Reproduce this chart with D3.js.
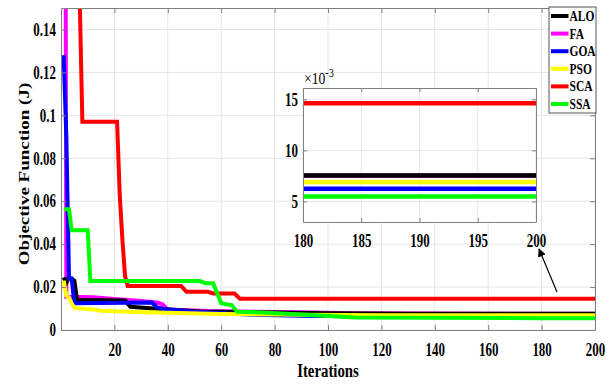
<!DOCTYPE html>
<html lang="en">
<meta charset="utf-8">
<style>
body { margin: 0; background: #fff; }
svg text { font-family: "Liberation Serif", "Times New Roman", serif; font-weight: bold; fill: #000; }
.grid line { stroke: #e6e6e6; stroke-width: 1px; }
.series { fill: none; stroke-linejoin: miter; }
</style>
<body>
<div id="chart"></div>
<script src="https://d3js.org/d3.v7.min.js"></script>
<script>
"use strict";

// series names and colours (legend order)
const names = ["ALO", "FA", "GOA", "PSO", "SCA", "SSA"];
const colors = ["#000000", "#ff00ff", "#0000ff", "#ffff00", "#ff0000", "#00ff00"];

// breakpoints of each convergence curve: iterations and objective values
const ALO_it  = [1, 2, 3, 5, 6, 24, 26, 32, 52, 80, 100, 130, 180, 200];
const ALO_val = [0.0245, 0.022, 0.0245, 0.023, 0.014, 0.0137, 0.0108, 0.0102, 0.0086, 0.0081, 0.0078, 0.00758, 0.00755, 0.00755];

const FA_it  = [1, 2, 12, 20, 28, 36, 38, 40, 55, 88, 110, 180, 200];
const FA_val = [0.6, 0.0155, 0.0153, 0.0145, 0.0138, 0.0128, 0.012, 0.0095, 0.0088, 0.0083, 0.0078, 0.00755, 0.00755];

const GOA_it  = [1, 2, 3, 4, 5, 34, 36, 40, 50, 70, 90, 120, 180, 200];
const GOA_val = [0.128, 0.09, 0.024, 0.024, 0.0125, 0.0128, 0.0105, 0.0095, 0.0085, 0.0072, 0.0066, 0.00628, 0.00625, 0.00625];

const PSO_it  = [1, 2, 3, 4, 5, 12, 15, 25, 40, 60, 90, 120, 180, 200];
const PSO_val = [0.023, 0.016, 0.015, 0.0125, 0.0103, 0.0096, 0.009, 0.0085, 0.008, 0.0075, 0.0071, 0.0069, 0.0069, 0.0069];

const SCA_it  = [1, 6, 7, 8, 21, 22, 23, 24, 25, 45, 47, 55, 57, 65, 67, 180, 200];
const SCA_val = [0.5, 0.45, 0.155, 0.097, 0.097, 0.063, 0.042, 0.025, 0.0205, 0.0205, 0.0178, 0.0178, 0.017, 0.017, 0.0146, 0.0146, 0.0146];

const SSA_it  = [1, 3, 4, 10, 11, 52, 54, 57, 60, 64, 66, 75, 90, 110, 180, 200];
const SSA_val = [0.0563, 0.0563, 0.0465, 0.0465, 0.0228, 0.0228, 0.0218, 0.0218, 0.0125, 0.0115, 0.0085, 0.0082, 0.0072, 0.0058, 0.0055, 0.0055];

const xTicks = [20, 40, 60, 80, 100, 120, 140, 160, 180, 200];
const yTicks = [0, 0.02, 0.04, 0.06, 0.08, 0.1, 0.12, 0.14];
const yTickLabels = ["0", "0.02", "0.04", "0.06", "0.08", "0.1", "0.12", "0.14"];
const insetXTicks = [180, 185, 190, 195, 200];
const insetYTicks = [5, 10, 15];

const series = [
  {name: "ALO", it: ALO_it, val: ALO_val},
  {name: "FA",  it: FA_it,  val: FA_val},
  {name: "GOA", it: GOA_it, val: GOA_val},
  {name: "PSO", it: PSO_it, val: PSO_val},
  {name: "SCA", it: SCA_it, val: SCA_val},
  {name: "SSA", it: SSA_it, val: SSA_val}
].map(s => ({name: s.name, color: colors[names.indexOf(s.name)],
             pts: s.it.map((x, i) => [x, s.val[i]])}));

// FA sits under ALO at the end, so draw it first
const drawOrder = ["FA", "ALO", "GOA", "PSO", "SCA", "SSA"];

const W = 613, H = 387;
const SQ = 0.72; // text looks horizontally squeezed in the picture
const FONT = '"Liberation Serif", "Times New Roman", serif';

const svg = d3.select("#chart").append("svg")
  .attr("width", W).attr("height", H);

// main axes box
const P = {left: 61, right: 595, top: 8, bottom: 330};
const x = d3.scaleLinear().domain([0, 200]).range([P.left, P.right]);
const y = d3.scaleLinear().domain([0, 0.15]).range([P.bottom, P.top]);

svg.append("defs").append("clipPath").attr("id", "mainclip")
  .append("rect").attr("x", P.left).attr("y", P.top)
  .attr("width", P.right - P.left).attr("height", P.bottom - P.top);

// grid
const grid = svg.append("g").attr("class", "grid");
grid.selectAll(".gx").data(xTicks).join("line")
  .attr("x1", d => x(d)).attr("x2", d => x(d)).attr("y1", P.top).attr("y2", P.bottom);
grid.selectAll(".gy").data(yTicks).join("line")
  .attr("x1", P.left).attr("x2", P.right).attr("y1", d => y(d)).attr("y2", d => y(d));

const line = d3.line().x(d => x(d[0])).y(d => y(d[1]));

const plot = svg.append("g").attr("clip-path", "url(#mainclip)");
drawOrder.forEach(n => {
  const s = series.find(d => d.name === n);
  plot.append("path").attr("class", "series")
    .attr("d", line(s.pts)).attr("stroke", s.color).attr("stroke-width", 4);
});

// axes (ticks inside like matlab)
const axColor = "#808080";
function styleAxis(g) {
  g.attr("font-family", null).attr("font-size", null);
  g.select(".domain").attr("stroke", axColor);
  g.selectAll(".tick line").attr("stroke", axColor);
  g.selectAll(".tick text").style("font-family", FONT).style("font-weight", "bold")
    .style("font-size", "18px");
}
const xAxis = svg.append("g").attr("transform", `translate(0,${P.bottom})`)
  .call(d3.axisBottom(x).tickValues(xTicks).tickSize(-5).tickSizeOuter(0).tickPadding(13))
  .call(styleAxis);
xAxis.selectAll(".tick text").attr("transform", `scale(${SQ},1)`);

const yAxis = svg.append("g").attr("transform", `translate(${P.left},0)`)
  .call(d3.axisLeft(y).tickValues(yTicks).tickFormat((d, i) => yTickLabels[i]).tickSize(-5).tickSizeOuter(0))
  .call(styleAxis);
yAxis.selectAll(".tick text").attr("x", -5 / SQ).attr("transform", `scale(${SQ},1)`);

svg.append("g").attr("transform", `translate(0,${P.top})`)
  .call(d3.axisTop(x).tickValues(xTicks).tickSize(-5).tickSizeOuter(0).tickFormat(""))
  .call(styleAxis);
svg.append("g").attr("transform", `translate(${P.right},0)`)
  .call(d3.axisRight(y).tickValues(yTicks).tickSize(-5).tickSizeOuter(0).tickFormat(""))
  .call(styleAxis);

// axis titles
svg.append("text")
  .attr("transform", `translate(${(P.left + P.right) / 2},377) scale(0.78,1)`)
  .attr("text-anchor", "middle").style("font-size", "19px").text("Iterations");
svg.append("text")
  .attr("transform", `translate(29,174) rotate(-90) scale(1,0.75)`)
  .attr("text-anchor", "middle").style("font-size", "19px").text("Objective Function (J)");

// legend
const L = {x: 549, y: 7, w: 47, h: 106};
const leg = svg.append("g");
leg.append("rect").attr("x", L.x).attr("y", L.y).attr("width", L.w).attr("height", L.h)
  .attr("fill", "#fff").attr("stroke", "#555").attr("stroke-width", 1);
names.forEach((n, i) => {
  const ly = 16 + i * 17.6;
  leg.append("line").attr("x1", 551).attr("x2", 568.5).attr("y1", ly).attr("y2", ly)
    .attr("stroke", colors[i]).attr("stroke-width", 4);
  leg.append("text").attr("transform", `translate(569.5,${ly + 5}) scale(0.82,1)`)
    .style("font-size", "14px").text(n);
});

// inset zoom of iterations 180-200
const I = {left: 303, right: 536, top: 88, bottom: 222};
const ix = d3.scaleLinear().domain([180, 200]).range([I.left, I.right]);
const iy = d3.scaleLinear().domain([3, 16.1]).range([I.bottom, I.top]);

const inset = svg.append("g");
inset.append("rect").attr("x", I.left).attr("y", I.top)
  .attr("width", I.right - I.left).attr("height", I.bottom - I.top).attr("fill", "#fff");
const ig = inset.append("g").attr("class", "grid");
ig.selectAll(".gx").data(insetXTicks).join("line")
  .attr("x1", d => ix(d)).attr("x2", d => ix(d)).attr("y1", I.top).attr("y2", I.bottom);
ig.selectAll(".gy").data(insetYTicks).join("line")
  .attr("x1", I.left).attr("x2", I.right).attr("y1", d => iy(d)).attr("y2", d => iy(d));

const iline = d3.line().x(d => ix(d[0])).y(d => iy(d[1] * 1000));
drawOrder.forEach(n => {
  const s = series.find(d => d.name === n);
  inset.append("path").attr("class", "series")
    .attr("d", iline(s.pts.filter(p => p[0] >= 180)))
    .attr("stroke", s.color).attr("stroke-width", 4.5);
});

const ixa = inset.append("g").attr("transform", `translate(0,${I.bottom})`)
  .call(d3.axisBottom(ix).tickValues(insetXTicks).tickSize(-4).tickSizeOuter(0).tickPadding(12))
  .call(styleAxis);
ixa.selectAll(".tick text").attr("transform", `scale(${SQ},1)`);
const iya = inset.append("g").attr("transform", `translate(${I.left},0)`)
  .call(d3.axisLeft(iy).tickValues(insetYTicks).tickSize(-4).tickSizeOuter(0))
  .call(styleAxis);
iya.selectAll(".tick text").attr("x", -5 / SQ).attr("transform", `scale(${SQ},1)`);
inset.append("g").attr("transform", `translate(0,${I.top})`)
  .call(d3.axisTop(ix).tickValues(insetXTicks).tickSize(-4).tickSizeOuter(0).tickFormat(""))
  .call(styleAxis);
inset.append("g").attr("transform", `translate(${I.right},0)`)
  .call(d3.axisRight(iy).tickValues(insetYTicks).tickSize(-4).tickSizeOuter(0).tickFormat(""))
  .call(styleAxis);

const exp = inset.append("text").attr("transform", `translate(304,84) scale(0.85,1)`)
  .style("font-weight", "normal").style("font-size", "16px");
exp.append("tspan").text("\u00d710");
exp.append("tspan").attr("dy", -7).style("font-size", "12px").text("-3");

// arrow pointing from the curves to the inset
svg.append("defs").append("marker").attr("id", "arrowhead")
  .attr("viewBox", "0 0 10 10").attr("refX", 9).attr("refY", 5)
  .attr("markerWidth", 7).attr("markerHeight", 7).attr("orient", "auto")
  .append("path").attr("d", "M0,0 L10,5 L0,10 z").attr("fill", "#000");
svg.append("line").attr("x1", 557).attr("y1", 292).attr("x2", 539).attr("y2", 249)
  .attr("stroke", "#000").attr("stroke-width", 1.2).attr("marker-end", "url(#arrowhead)");
</script>
</body>
</html>
